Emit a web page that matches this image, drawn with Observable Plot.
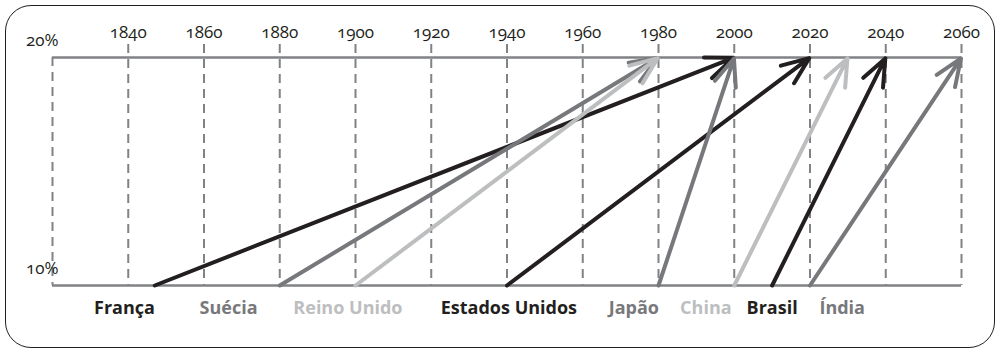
<!DOCTYPE html>
<html>
<head>
<meta charset="utf-8">
<script src="https://cdn.jsdelivr.net/npm/d3@7"></script>
<script src="https://cdn.jsdelivr.net/npm/@observablehq/plot@0.6"></script>
<style>
  html, body { margin: 0; padding: 0; background: #fff; }
  #wrap { position: relative; width: 1003px; height: 358px; }
  #border { position: absolute; left: 5px; top: 5px; width: 990px; height: 343px;
            border: 1.6px solid #231f20; border-radius: 26px; pointer-events: none; box-sizing: border-box; }
  #chart svg { display: block; }
</style>
</head>
<body>
<div id="wrap"><div id="chart"></div><div id="border"></div></div>
<script>
// Data
const countries  = ["França", "Suécia", "Reino Unido", "Estados Unidos", "Japão", "China", "Brasil", "Índia"];
const startYears = [1847, 1880, 1900, 1940, 1980, 2000, 2010, 2020];   // year share of 65+ reached 10%
const endYears   = [2000, 1980, 1980, 2020, 2000, 2030, 2040, 2060];   // year share reaches 20%
const tones      = ["dark", "mid", "light", "dark", "mid", "light", "dark", "mid"];
const labelYears = [1839, 1866.5, 1898, 1940.5, 1973.5, 1992.5, 2010, 2028.5];
const yearTicks  = [1840, 1860, 1880, 1900, 1920, 1940, 1960, 1980, 2000, 2020, 2040, 2060];
const shareLevels = [10, 20];
const shareLabels = ["10%", "20%"];

const rows = countries.map((c, i) => ({
  country: c, start: startYears[i], end: endYears[i], tone: tones[i], labelYear: labelYears[i]
}));

const toneColor = {dark: "#231f20", mid: "#77787b", light: "#bcbec0"};
const gridColor = "#808285";
const font = "'Open Sans', 'Noto Sans', sans-serif";

const plot = Plot.plot({
  width: 1003,
  height: 358,
  marginLeft: 52,
  marginRight: 42,
  marginTop: 57,
  marginBottom: 73,
  x: {domain: [1820, 2060], axis: null},
  y: {domain: [10, 20], axis: null},
  style: {fontFamily: font, background: "transparent"},
  marks: [
    // dashed verticals (left edge + year ticks)
    Plot.ruleX([1820], {stroke: gridColor, strokeWidth: 2, strokeDasharray: "9,6"}),
    Plot.ruleX(yearTicks, {stroke: gridColor, strokeWidth: 2, strokeDasharray: "9,6", insetTop: -13}),
    // horizontal 10% / 20% lines
    Plot.ruleY(shareLevels, {stroke: gridColor, strokeWidth: 2.6}),
    // top year labels
    Plot.axisX(yearTicks, {anchor: "top", tickSize: 0, tickPadding: 20, tickFormat: d => String(d),
      fontSize: 17, fill: "#231f20"}),
    // percentage labels
    Plot.text(shareLevels, {x: () => 1820, y: d => d, text: (d, i) => shareLabels[i],
      textAnchor: "end", lineAnchor: "bottom", dx: 6, dy: -12, fontSize: 17, fill: "#231f20"}),
    // arrows
    Plot.arrow(rows, {x1: "start", y1: () => 10, x2: "end", y2: () => 20,
      stroke: d => toneColor[d.tone], strokeWidth: 4, headLength: 11, headAngle: 44,
      insetEnd: 1}),
    // country labels
    Plot.text(rows, {x: "labelYear", y: () => 10, text: "country", dy: 23,
      fill: d => toneColor[d.tone], fontSize: 18, fontWeight: "bold", lineAnchor: "middle"})
  ]
});
plot.querySelectorAll("text").forEach(t => t.style.fontVariantNumeric = "oldstyle-nums");
document.getElementById("chart").appendChild(plot);
</script>
</body>
</html>
